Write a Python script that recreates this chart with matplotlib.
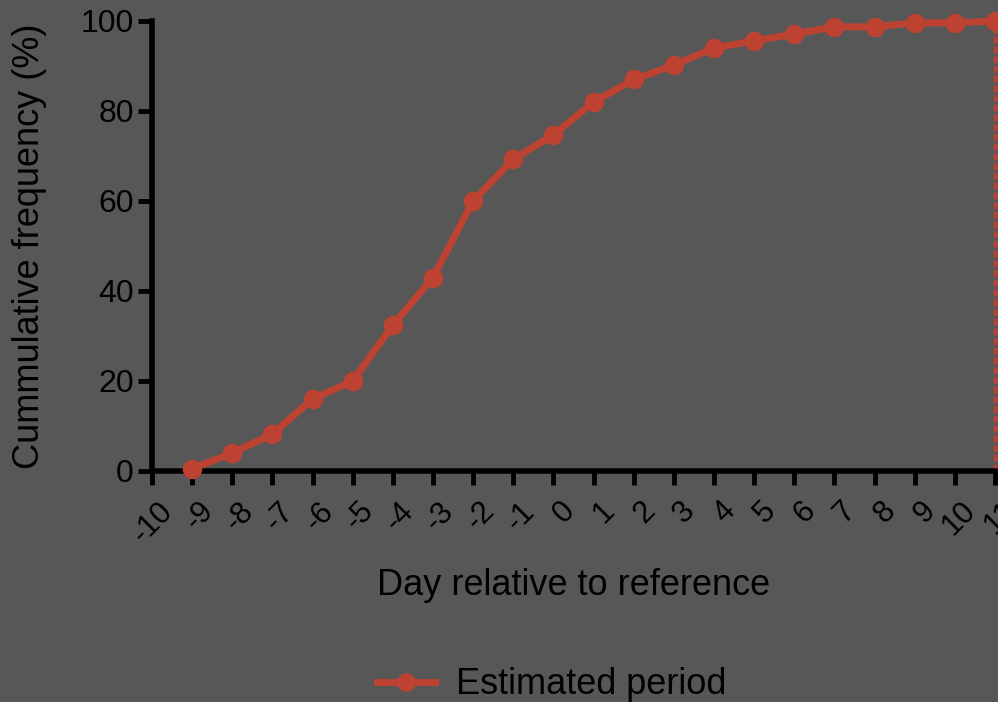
import matplotlib
matplotlib.use("Agg")
import matplotlib.pyplot as plt
import matplotlib.transforms as mtransforms

# Cumulative frequency
days = [-9, -8, -7, -6, -5, -4, -3, -2, -1, 0, 1, 2, 3, 4, 5, 6, 7, 8, 9, 10, 11]
cum_freq = [0.5, 4.0, 8.2, 16.0, 20.0, 32.4, 43.0, 60.0, 69.3, 74.7, 82.0, 87.0,
            90.2, 94.0, 95.6, 97.1, 98.7, 98.7, 99.6, 99.6, 100.0]
x_ticks = list(range(-10, 12))
y_ticks = [0, 20, 40, 60, 80, 100]
series_label = "Estimated period"

bg = "#575757"
red = "#be4232"

plt.rcParams["font.family"] = ["Liberation Sans", "DejaVu Sans"]

fig = plt.figure(figsize=(9.98, 7.02), dpi=100, facecolor=bg)
ax = fig.add_axes([152 / 998, 1 - 471 / 702, (995 - 152) / 998, (471 - 21) / 702])
ax.set_facecolor(bg)

ax.plot(days, cum_freq, color=red, lw=5, marker="o", ms=13, mec=red,
        label=series_label, clip_on=False, zorder=3)
# dotted drop line at the last day
ax.plot([days[-1], days[-1]], [0, cum_freq[-1]], color=red, lw=2.5,
        ls=(0, (2, 0.8)), clip_on=False, zorder=2)

ax.set_xlim(-10, 11)
ax.set_ylim(0, 100)
ax.set_xticks(x_ticks)
ax.set_xticklabels([str(t) for t in x_ticks], rotation=45, ha="right", va="top",
                   rotation_mode="anchor")
ax.set_yticks(y_ticks)

for s in ["top", "right"]:
    ax.spines[s].set_visible(False)
for s in ["left", "bottom"]:
    ax.spines[s].set_linewidth(4)
    ax.spines[s].set_color("black")

ax.tick_params(axis="both", direction="out", length=10, width=3.5, colors="black", pad=3)
ax.tick_params(axis="y", labelsize=23)
ax.tick_params(axis="x", labelsize=22, pad=8)

shift = mtransforms.ScaledTranslation(6 / 100, 0, fig.dpi_scale_trans)
for lbl in ax.get_xticklabels():
    lbl.set_transform(lbl.get_transform() + shift)

ax.set_xlabel("Day relative to reference", fontsize=26)
ax.xaxis.set_label_coords(0.5, -0.215)
ax.set_ylabel("Cummulative frequency (%)", fontsize=26)
ax.yaxis.set_label_coords(-0.124, 0.5)

fig.legend(loc="center left", bbox_to_anchor=(377 / 998, 1 - 685 / 702), frameon=False,
           fontsize=26, handlelength=1.6, handletextpad=0.6, markerscale=0.95,
           borderpad=0, borderaxespad=0)

fig.savefig("out.png", dpi=100, facecolor=bg)
